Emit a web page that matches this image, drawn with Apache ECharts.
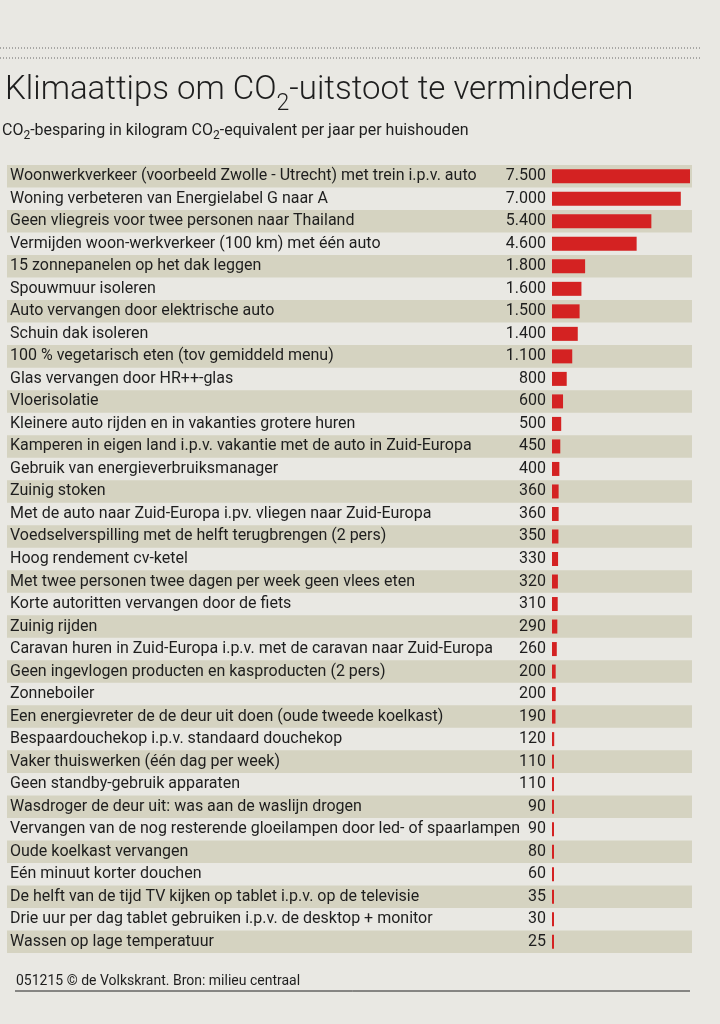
<!DOCTYPE html>
<html>
<head>
<meta charset="utf-8">
<script src="https://cdn.jsdelivr.net/npm/echarts@6/dist/echarts.min.js"></script>
<style>
html,body{margin:0;padding:0;background:#e9e8e3;}
#chart{width:720px;height:1024px;}
</style>
</head>
<body>
<div id="chart"></div>
<script>
const categories = [
  "Woonwerkverkeer (voorbeeld Zwolle - Utrecht) met trein i.p.v. auto",
  "Woning verbeteren van Energielabel G naar A",
  "Geen vliegreis voor twee personen naar Thailand",
  "Vermijden woon-werkverkeer (100 km) met één auto",
  "15 zonnepanelen op het dak leggen",
  "Spouwmuur isoleren",
  "Auto vervangen door elektrische auto",
  "Schuin dak isoleren",
  "100 % vegetarisch eten (tov gemiddeld menu)",
  "Glas vervangen door HR++-glas",
  "Vloerisolatie",
  "Kleinere auto rijden en in vakanties grotere huren",
  "Kamperen in eigen land i.p.v. vakantie met de auto in Zuid-Europa",
  "Gebruik van energieverbruiksmanager",
  "Zuinig stoken",
  "Met de auto naar Zuid-Europa i.pv. vliegen naar Zuid-Europa",
  "Voedselverspilling met de helft terugbrengen (2 pers)",
  "Hoog rendement cv-ketel",
  "Met twee personen twee dagen per week geen vlees eten",
  "Korte autoritten vervangen door de fiets",
  "Zuinig rijden",
  "Caravan huren in Zuid-Europa i.p.v. met de caravan naar Zuid-Europa",
  "Geen ingevlogen producten en kasproducten (2 pers)",
  "Zonneboiler",
  "Een energievreter de de deur uit doen (oude tweede koelkast)",
  "Bespaardouchekop i.p.v. standaard douchekop",
  "Vaker thuiswerken (één dag per week)",
  "Geen standby-gebruik apparaten",
  "Wasdroger de deur uit: was aan de waslijn drogen",
  "Vervangen van de nog resterende gloeilampen door led- of spaarlampen",
  "Oude koelkast vervangen",
  "Eén minuut korter douchen",
  "De helft van de tijd TV kijken op tablet i.p.v. op de televisie",
  "Drie uur per dag tablet gebruiken i.p.v. de desktop + monitor",
  "Wassen op lage temperatuur"
];
const values = [7500, 7000, 5400, 4600, 1800, 1600, 1500, 1400, 1100, 800, 600, 500, 450, 400, 360, 360, 350, 330, 320, 310, 290, 260, 200, 200, 190, 120, 110, 110, 90, 90, 80, 60, 35, 30, 25];

const FONT = 'Roboto';
const fmt = v => String(v).replace(/\B(?=(\d{3})+(?!\d))/g, '.');

const chart = echarts.init(document.getElementById('chart'));
chart.setOption({
  backgroundColor: '#e9e8e3',
  animation: false,
  grid: [
    {left: 7, right: 28, top: 165, bottom: 71},
    {left: 552, right: 30, top: 165, bottom: 71}
  ],
  xAxis: [
    {gridIndex: 0, type: 'value', min: 0, max: 1, show: false},
    {gridIndex: 1, type: 'value', min: 0, max: 7500, show: false}
  ],
  yAxis: [
    {gridIndex: 0, type: 'category', inverse: true, data: categories,
     axisLine: {show: false}, axisTick: {show: false}, axisLabel: {show: false},
     splitLine: {show: false},
     splitArea: {show: true, areaStyle: {color: ['#d5d3c1', 'rgba(0,0,0,0)']}}},
    {gridIndex: 1, type: 'category', inverse: true, data: categories,
     axisLine: {show: false}, axisTick: {show: false}, splitLine: {show: false},
     axisLabel: {align: 'left', margin: 542, color: '#1e1e1e', fontFamily: FONT, fontSize: 16}}
  ],
  series: [{
    type: 'bar', xAxisIndex: 1, yAxisIndex: 1, data: values,
    barWidth: 14, barMinHeight: 2,
    itemStyle: {color: '#d42222'},
    label: {show: true, position: 'left', distance: 6, color: '#1e1e1e', fontFamily: FONT, fontSize: 16,
            formatter: p => fmt(p.value)}
  }],
  graphic: [
    {type: 'line', shape: {x1: 0, y1: 48, x2: 700, y2: 48}, style: {stroke: '#666', lineWidth: 1, lineDash: [1, 2]}},
    {type: 'line', shape: {x1: 0, y1: 58, x2: 700, y2: 58}, style: {stroke: '#666', lineWidth: 1, lineDash: [1, 2]}},
    {type: 'text', left: 5, top: 74, style: {
      text: '{a|Klimaattips om CO}{s|2}{a|-uitstoot te verminderen}',
      rich: {
        a: {fontFamily: FONT, fontWeight: 300, fontSize: 33, fill: '#1e1e1e'},
        s: {fontFamily: FONT, fontWeight: 300, fontSize: 23, fill: '#1e1e1e', padding: [28, 0, 0, 0]}
      }
    }},
    {type: 'text', left: 2, top: 123, style: {
      text: '{a|CO}{s|2}{a|-besparing in kilogram CO}{s|2}{a|-equivalent per jaar per huishouden}',
      rich: {
        a: {fontFamily: FONT, fontSize: 16, fill: '#1e1e1e'},
        s: {fontFamily: FONT, fontSize: 12, fill: '#1e1e1e', padding: [10, 0, 0, 0]}
      }
    }},
    {type: 'text', left: 16, top: 974, style: {
      text: '051215 © de Volkskrant. Bron: milieu centraal',
      fontFamily: FONT, fontSize: 14, fill: '#1e1e1e'
    }},
    {type: 'line', shape: {x1: 15, y1: 991, x2: 690, y2: 991}, style: {stroke: '#222', lineWidth: 1}}
  ]
});
</script>
</body>
</html>
